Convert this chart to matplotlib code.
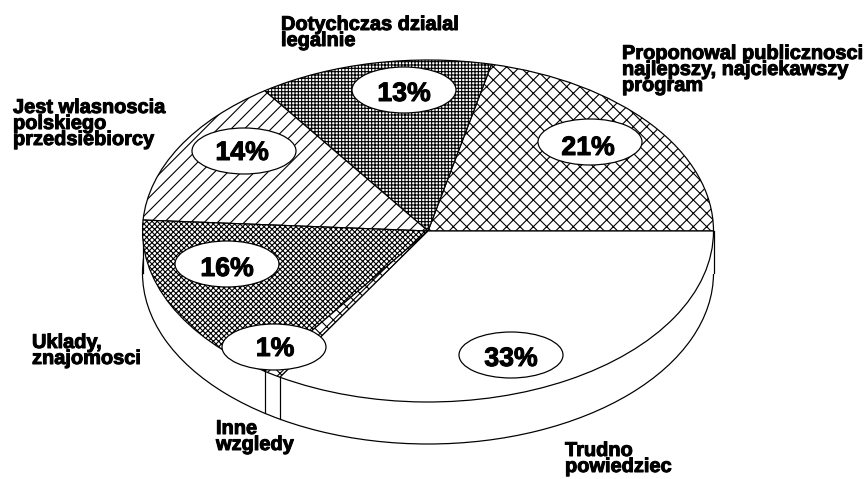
import numpy as np
import matplotlib
matplotlib.use('Agg')
import matplotlib.pyplot as plt
import matplotlib.patheffects as pe
from matplotlib.patches import Ellipse

plt.rcParams['font.family'] = ['Liberation Sans', 'DejaVu Sans']
plt.rcParams['hatch.linewidth'] = 1.0

# slices, counter-clockwise from 3 o'clock
labels = ['Proponowal publicznosci\nnajlepszy, najciekawszy\nprogram',
          'Dotychczas dzialal\nlegalnie',
          'Jest wlasnoscia\npolskiego\nprzedsiebiorcy',
          'Uklady,\nznajomosci',
          'Inne\nwzgledy',
          'Trudno\npowiedziec']
values = [21, 13, 14, 16, 1, 33]
hatches = ['xx', '++++', '//', 'xxxxx', 'xx', '']

W, H = 867, 479
DPI = 80
cx, cy, rx, ry, depth = 428, 231, 285.5, 171, 42

fig = plt.figure(figsize=(W / DPI, H / DPI), dpi=DPI)
ax = fig.add_axes([0, 0, 1, 1])

def px(x, y):
    # picture pixels to pie units
    return (x - cx) / rx, (cy - y) / ry

d = depth / ry
heavy = [pe.withStroke(linewidth=0.9, foreground='black')]

# side wall of the pie
ax.pie([1], center=(0, -d), startangle=90, colors=['white'],
       wedgeprops={'edgecolor': 'black', 'linewidth': 1.1})
ax.fill_between([-1, 1], -d, 0, color='white', zorder=1.5)
ax.plot([-1, -1], [0, -d], color='black', lw=1.1, zorder=1.6)
ax.plot([1, 1], [0, -d], color='black', lw=1.1, zorder=1.6)

# top of the pie
wedges, _ = ax.pie(values, startangle=0, colors=['white'] * len(values),
                   wedgeprops={'edgecolor': 'black', 'linewidth': 1.1, 'zorder': 2})
for w, h in zip(wedges, hatches):
    w.set_hatch(h)

# edges of the small slice run down the side wall
ang = np.cumsum(values) / sum(values) * 2 * np.pi
for a in ang[3:5]:
    x, y = np.cos(a), np.sin(a)
    ax.plot([x, x], [y, y - d], color='black', lw=1.1, zorder=1.7)

# value bubbles
bubbles = [(590, 142), (404, 90), (244, 151), (227, 264), (274, 347), (511, 355)]
value_pos = [(588, 148), (404, 94), (242, 153), (227, 269), (275, 349), (511, 359)]
for v, (bx, by), (tx, ty) in zip(values, bubbles, value_pos):
    ex, ey = px(bx, by)
    ax.add_patch(Ellipse((ex, ey), 104 / rx, 46 / ry, facecolor='white',
                         edgecolor='black', linewidth=1.1, zorder=3))
    tx, ty = px(tx, ty)
    ax.text(tx, ty, '%d%%' % v, ha='center', va='center', fontsize=24,
            fontweight='bold', zorder=4, path_effects=heavy)

# slice names
label_pos = [(622, 44), (281, 15), (13, 98), (32, 333), (216, 419), (565, 441)]
for lab, (lx, ly) in zip(labels, label_pos):
    fig.text(lx / W, 1 - ly / H, lab, ha='left', va='top', fontsize=18,
             fontweight='bold', linespacing=0.8, path_effects=heavy)

ax.set_aspect('auto')
ax.set_xlim(-cx / rx, (W - cx) / rx)
ax.set_ylim((cy - H) / ry, cy / ry)
ax.axis('off')

fig.savefig('out.png', dpi=DPI)
